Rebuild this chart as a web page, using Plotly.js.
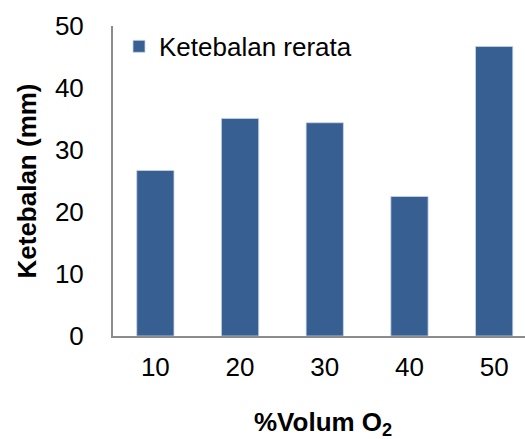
<!DOCTYPE html>
<html>
<head>
<meta charset="utf-8">
<script src="https://cdn.plot.ly/plotly-3.0.1.min.js"></script>
<style>
  html, body { margin: 0; padding: 0; background: #ffffff; }
  #chart { width: 525px; height: 439px; }
</style>
</head>
<body>
<div id="chart"></div>
<script>
// Oxygen volume fraction (%) on the category axis
const categories = ['10', '20', '30', '40', '50'];
// Mean layer thickness (mm) for each oxygen fraction
const thickness = [26.7, 35.1, 34.4, 22.5, 46.7];
const seriesName = 'Ketebalan rerata';
const yTicks = [0, 10, 20, 30, 40, 50];
const xTitle = '<b>%Volum O<sub>2</sub></b>';
const yTitle = '<b>Ketebalan (mm)</b>';

const FONT = 'Arial, "Liberation Sans", sans-serif';

const trace = {
  type: 'bar',
  name: seriesName,
  x: categories,
  y: thickness,
  width: 0.44,
  marker: {
    color: '#385f91',
    line: { color: 'rgba(200,214,232,0.8)', width: 1 }
  },
  hoverinfo: 'x+y'
};

const layout = {
  width: 525,
  height: 439,
  margin: { l: 113, r: 0, t: 26, b: 103, pad: 0 },
  paper_bgcolor: '#ffffff',
  plot_bgcolor: '#ffffff',
  font: { family: FONT, size: 26, color: '#000000' },
  showlegend: true,
  legend: {
    x: 0.0146,
    xanchor: 'left',
    y: 1.01,
    yanchor: 'top',
    bgcolor: 'rgba(0,0,0,0)',
    font: { family: FONT, size: 26, color: '#000000' }
  },
  xaxis: {
    type: 'category',
    range: [-0.5, 4.364],
    showline: true,
    linecolor: '#8c8c8c',
    linewidth: 2,
    showgrid: false,
    zeroline: false,
    ticks: '',
    ticklabelstandoff: 7,
    tickfont: { family: FONT, size: 26, color: '#000000' }
  },
  yaxis: {
    range: [0, 50],
    tickvals: yTicks,
    ticktext: yTicks.map(String),
    showline: true,
    linecolor: '#8c8c8c',
    linewidth: 2,
    showgrid: false,
    zeroline: false,
    ticks: '',
    ticklabelstandoff: 22,
    tickfont: { family: FONT, size: 26, color: '#000000' },
    title: {
      text: yTitle,
      font: { family: FONT, size: 26, color: '#000000' },
      standoff: 11
    }
  },
  // x-axis title centred under the full category span
  annotations: [{
    text: xTitle,
    xref: 'paper',
    yref: 'paper',
    x: 0.51,
    y: -0.222,
    xanchor: 'center',
    yanchor: 'top',
    showarrow: false,
    font: { family: FONT, size: 26, color: '#000000' }
  }],
  bargap: 0.56
};

Plotly.newPlot('chart', [trace], layout, { displayModeBar: false, staticPlot: true });
</script>
</body>
</html>
